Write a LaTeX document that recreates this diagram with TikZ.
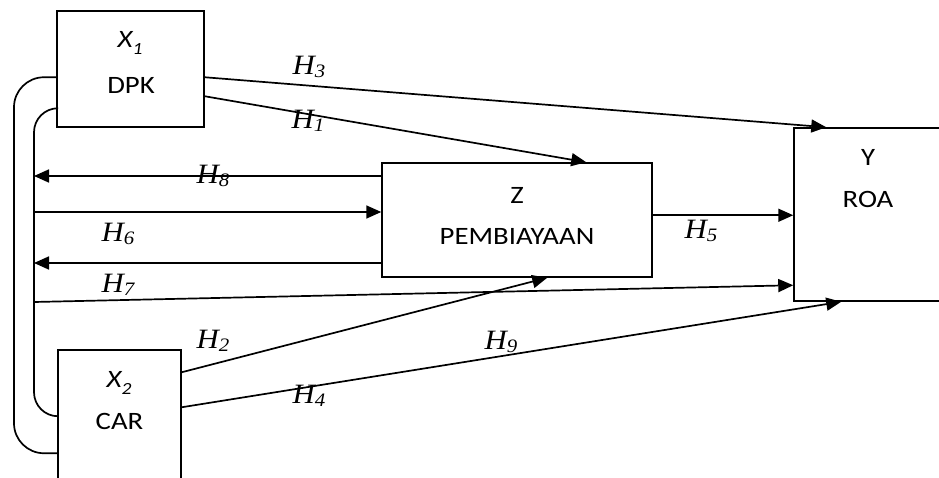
\documentclass[tikz,border=0pt]{standalone}
\usepackage{fontspec}
\setmainfont{Liberation Serif}
\newfontfamily\calfont{Carlito}[FakeStretch=1.15]
\newfontfamily\hfont{Liberation Serif}[FakeStretch=1.1]
\usetikzlibrary{arrows.meta,calc}
\newcommand\hlab[1]{{\hfont\itshape\fontsize{28}{28}\selectfont H\raisebox{-0.12em}{\fontsize{19}{19}\selectfont #1}}}
\newcommand\xlab[1]{{\calfont\itshape\fontsize{25}{25}\selectfont X\raisebox{-0.25em}{\fontsize{17}{17}\selectfont #1}}}
\begin{document}
\begin{tikzpicture}[x=1pt,y=-1pt,
  box/.style={draw,line width=1.5pt,inner sep=0pt},
  txt/.style={font=\calfont\fontsize{25}{25}\selectfont,inner sep=0pt},
  lab/.style={inner sep=0pt},
  conn/.style={line width=1.7pt},
  arr/.style={conn,-{Triangle[length=15pt,width=13pt]}}]
\useasboundingbox (0,0) rectangle (939,478);
\clip (0,0) rectangle (939,478);
% boxes
\node[box,minimum width=147pt,minimum height=116pt] (dpk) at (130.5,69) {};
\node[box,minimum width=270pt,minimum height=114pt] (z) at (517,220) {};
\node[box,minimum width=148pt,minimum height=173pt] (roa) at (868,214.5) {};
\node[box,minimum width=123pt,minimum height=140pt] (car) at (119.5,420) {};
% box texts
\node[txt] (x1t) at (130,43) {\xlab{1}};
\node[txt] (dpkt) at (131,85) {DPK};
\node[txt] (x2t) at (119,383) {\xlab{2}};
\node[txt] (cart) at (119.5,421) {CAR};
\node[txt] (zt) at (517,195) {Z};
\node[txt] (zpt) at (517,236) {PEMBIAYAAN};
\node[txt] (yt) at (868,157) {Y};
\node[txt] (roat) at (868,199) {ROA};
% bracket
\coordinate (outer) at (14,266);
\coordinate (inner) at (34,266);
\draw[conn,rounded corners=30pt] ($(dpk.north west)+(0,67)$) -| (outer) |- ($(car.north west)+(0,104)$);
\draw[conn,rounded corners=24pt] ($(dpk.north west)+(0,98)$) -| (inner) |- ($(car.north west)+(0,67)$);
\coordinate (l8) at (34,176);
\coordinate (l6) at (34,212);
\coordinate (l63) at (34,263);
\coordinate (l7) at (34,302);
% connectors
\draw[arr] ($(dpk.north east)+(0,67)$) -- ($(roa.north west)+(33,0)$);
\draw[arr] ($(dpk.north east)+(0,86)$) -- ($(z.north west)+(205,0)$);
\draw[arr] (z.west |- l8) -- (l8);
\draw[arr] (l6) -- (z.west |- l6);
\draw[arr] (z.west |- l63) -- (l63);
\draw[arr] (l7) -- ($(roa.north west)+(0,158)$);
\draw[arr] ($(z.north east)+(0,53)$) -- ($(roa.north west)+(0,88)$);
\draw[arr] ($(car.north east)+(0,23)$) -- ($(z.south west)+(166,0)$);
\draw[arr] ($(car.north east)+(0,58)$) -- ($(roa.south west)+(48,0)$);
% labels
\node[lab] (h3) at (309,67) {\hlab{3}};
\node[lab] (h1) at (308,121) {\hlab{1}};
\node[lab] (h8) at (213,176) {\hlab{8}};
\node[lab] (h6) at (118,234) {\hlab{6}};
\node[lab] (h7) at (118,285) {\hlab{7}};
\node[lab] (h5) at (701,231) {\hlab{5}};
\node[lab] (h2) at (213,341) {\hlab{2}};
\node[lab] (h4) at (309,396) {\hlab{4}};
\node[lab] (h9) at (501,342) {\hlab{9}};
\end{tikzpicture}
\end{document}
